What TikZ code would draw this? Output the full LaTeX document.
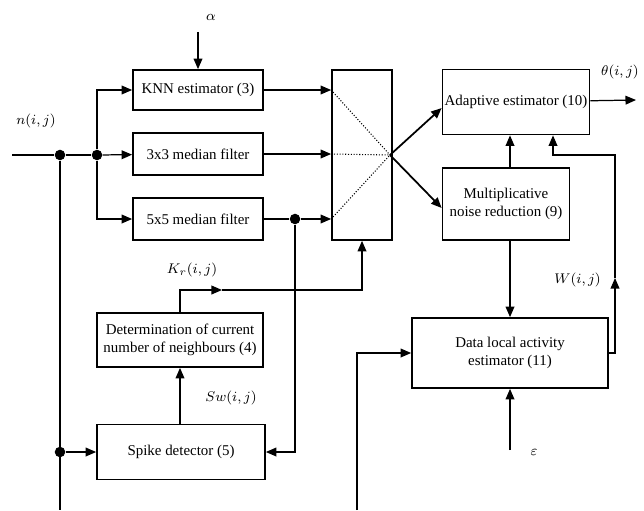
\documentclass[tikz,border=0pt]{standalone}
\usepackage{amsmath}
\usepackage{amssymb}
\usepackage{fontspec}
\setmainfont{Liberation Serif}
\usepackage{tikz}
\usetikzlibrary{arrows.meta,calc}

\tikzset{
  blk/.style={draw,line width=1pt,align=center,inner sep=1pt,font=\fontsize{8.5}{10}\selectfont},
  arr/.style={line width=0.7pt,-{Triangle[length=6pt,width=5pt]}},
  ln/.style={line width=0.7pt},
  dot/.style={circle,fill,inner sep=0pt,minimum size=6pt},
  lbl/.style={font=\fontsize{8.5}{10}\selectfont}
}

\begin{document}
\begin{tikzpicture}[x=0.02cm,y=-0.02cm]
  \useasboundingbox (0,0) rectangle (644,510);
  \node[blk,minimum width=2.6cm,minimum height=0.8cm] (knn) at (198,90) {KNN estimator (3)};
  \node[blk,minimum width=2.6cm,minimum height=0.84cm] (med3) at (198,154) {3x3 median filter};
  \node[blk,minimum width=2.6cm,minimum height=0.84cm] (med5) at (198,219) {5x5 median filter};
  \node[blk,minimum width=1.2cm,minimum height=3.4cm] (sw) at (362,155) {};
  \node[blk,minimum width=2.94cm,minimum height=1.3cm] (adapt) at (516,102) {Adaptive estimator (10)};
  \node[blk,minimum width=2.54cm,minimum height=1.44cm] (mult) at (506,204) {Multiplicative\\noise reduction (9)};
  \node[blk,minimum width=3.92cm,minimum height=1.4cm] (dla) at (510,353) {Data local activity\\estimator (11)};
  \node[blk,minimum width=3.32cm,minimum height=1.08cm] (det) at (180,340) {Determination of current\\number of neighbours (4)};
  \node[blk,minimum width=3.36cm,minimum height=1.1cm] (spike) at (181,452) {Spike detector (5)};

  \node[dot] (ja) at (60,155) {};
  \node[dot] (jb) at (97,155) {};
  \node[dot] (jc) at (60,452) {};
  \node[dot] (jd) at (295,219) {};
  \coordinate (in) at (12,155);
  \coordinate (bot) at (60,510);
  \coordinate (hub) at (390,155);
  \coordinate (out) at (636,100);
  \coordinate (alpha) at (198,32);
  \coordinate (eps) at (510,450);
  \coordinate (bot2) at (357,510);
  \coordinate (kr) at (222,290);
  \coordinate (wp) at (615,278);

  \node[lbl] (nlbl) at (36,121) {$n(i,j)$};
  \node[lbl] (albl) at (211,17) {$\alpha$};
  \node[lbl] (olbl) at (620,72) {$\theta(i,j)$};
  \node[lbl] (klbl) at (192,270) {$K_r(i,j)$};
  \node[lbl] (slbl) at (231,398) {$Sw(i,j)$};
  \node[lbl,anchor=east] (wlbl) at (607,280) {$W(i,j)$};
  \node[lbl] (elbl) at (534,452) {$\varepsilon$};

  \draw[ln] (in) -- (ja) -- (jb);
  \draw[arr] (jb) -- (med3);
  \draw[arr] (jb) |- (knn);
  \draw[arr] (jb) |- (med5);
  \draw[ln] (ja) -- (bot);
  \draw[arr] (jc) -- (spike);
  \draw[arr] (alpha) -- (knn);

  \draw[arr] (knn) -- (knn -| sw.west);
  \draw[arr] (med3) -- (med3 -| sw.west);
  \draw[ln] (med5) -- (jd);
  \draw[arr] (jd) -- (med5 -| sw.west);
  \draw[arr] (jd) |- (spike);

  \draw[densely dotted,line width=0.6pt] (knn -| sw.west) -- (hub);
  \draw[densely dotted,line width=0.6pt] (med3 -| sw.west) -- (hub);
  \draw[densely dotted,line width=0.6pt] (med5 -| sw.west) -- (hub);
  \draw[arr,line width=1pt] (hub) -- ($(adapt.west)+(0,6)$);
  \draw[arr,line width=1pt] (hub) -- ($(mult.west)+(0,4)$);

  \draw[arr] (adapt) -- (out);
  \draw[arr] (mult.north -| 510,0) -- (adapt.south -| 510,0);
  \draw[arr] (mult.south -| 510,0) -- (dla);
  \draw[arr] (eps) -- (dla);
  \draw[arr] (dla) -| (wp);
  \draw[arr] (wp) |- (553,155) -- (adapt.south -| 553,0);
  \draw[arr] (bot2) |- (dla);

  \draw[arr] (spike.north -| det) -- (det);
  \draw[arr] (det) |- (kr);
  \draw[arr] (kr) -| (sw);
\end{tikzpicture}
\end{document}
